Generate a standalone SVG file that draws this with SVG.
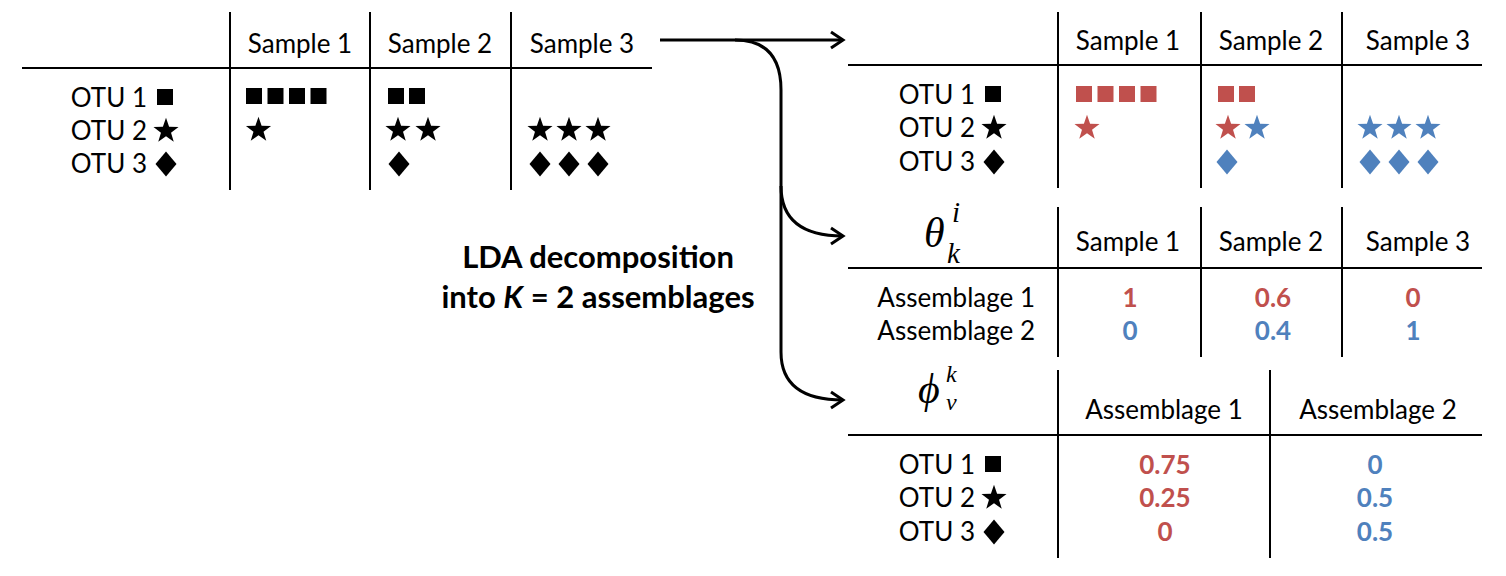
<svg xmlns="http://www.w3.org/2000/svg" width="1506" height="576" viewBox="0 0 1506 576">
<style>
text{font-family:Lato,"Open Sans","Liberation Sans",sans-serif;font-size:26px;fill:#000}
.c{text-anchor:middle}
.r{text-anchor:end}
.b{font-weight:bold}
.lda{font-size:31px;font-weight:bold}
.red{fill:#C0504D}
.blue{fill:#4F81BD}
.ln{stroke:#000;stroke-width:2;fill:none}
.math{font-family:"Liberation Serif","DejaVu Serif",serif;font-style:italic}
.big{font-size:42px}
.sub{font-size:29px}
.sub2{font-size:24px}
.conn{stroke:#000;stroke-width:3;fill:none}
</style>
<defs>
<path id="star" d="M0,-13.2 L3.1,-4.27 L12.55,-4.08 L5.03,1.63 L7.76,10.68 L0,5.28 L-7.76,10.68 L-5.03,1.63 L-12.55,-4.08 L-3.1,-4.27 Z"/>
<path id="dia" d="M0,-12.5 L10.5,0 L0,12.5 L-10.5,0 Z"/>
<rect id="sq" x="-8" y="-8" width="16" height="16"/>
<marker id="arr" viewBox="0 0 20 20" refX="16" refY="10" markerWidth="20" markerHeight="20" markerUnits="userSpaceOnUse" orient="auto">
<path d="M4,2 L16,10 L4,18" fill="none" stroke="#000" stroke-width="3"/>
</marker>
</defs>

<g id="table-counts">
<path class="ln" d="M230,12V190M370,12V190M511,12V190M22,68H652"/>
<text class="c" x="300" y="53">Sample 1</text>
<text class="c" x="440" y="53">Sample 2</text>
<text class="c" x="582" y="53">Sample 3</text>
<text class="r" x="147" y="107">OTU 1</text>
<text class="r" x="147" y="140">OTU 2</text>
<text class="r" x="147" y="173">OTU 3</text>
<use href="#sq" x="165" y="97"/>
<use href="#star" x="166" y="131"/>
<use href="#dia" x="166" y="164"/>
<use href="#sq" x="254" y="96"/><use href="#sq" x="275.5" y="96"/><use href="#sq" x="297" y="96"/><use href="#sq" x="318.5" y="96"/>
<use href="#star" x="258.5" y="130"/>
<use href="#sq" x="396" y="96"/><use href="#sq" x="417" y="96"/>
<use href="#star" x="398" y="130"/><use href="#star" x="428" y="130"/>
<use href="#dia" x="399" y="164"/>
<use href="#star" x="540" y="130"/><use href="#star" x="569" y="130"/><use href="#star" x="598" y="130"/>
<use href="#dia" x="540" y="164"/><use href="#dia" x="569" y="164"/><use href="#dia" x="598" y="164"/>
</g>

<g id="connectors">
<path class="conn" d="M660,40 H843" marker-end="url(#arr)"/>
<path class="conn" d="M735,40 Q781,40 781,90 V352 Q781,400 843,400" marker-end="url(#arr)"/>
<path class="conn" d="M781,186 Q781,236 843,236" marker-end="url(#arr)"/>
</g>

<g id="label-lda">
<text class="c lda" x="598" y="268">LDA decomposition</text>
<text class="c lda" x="598" y="308">into <tspan font-style="italic">K</tspan> = 2 assemblages</text>
</g>

<g id="table-colored">
<path class="ln" d="M1058,12V188M1201,12V188M1342,12V188M848,65H1482"/>
<text class="c" x="1128" y="50">Sample 1</text>
<text class="c" x="1271" y="50">Sample 2</text>
<text class="c" x="1418" y="50">Sample 3</text>
<text class="r" x="975" y="104">OTU 1</text>
<text class="r" x="975" y="137">OTU 2</text>
<text class="r" x="975" y="171">OTU 3</text>
<use href="#sq" x="993" y="94"/>
<use href="#star" x="994" y="128"/>
<use href="#dia" x="994" y="162"/>
<g class="red">
<use href="#sq" x="1084" y="94"/><use href="#sq" x="1105.5" y="94"/><use href="#sq" x="1127" y="94"/><use href="#sq" x="1148.5" y="94"/>
<use href="#star" x="1087" y="128"/>
<use href="#sq" x="1226" y="94"/><use href="#sq" x="1247" y="94"/>
<use href="#star" x="1228" y="128"/>
</g>
<g class="blue">
<use href="#star" x="1257" y="128"/>
<use href="#dia" x="1227" y="162"/>
<use href="#star" x="1370" y="128"/><use href="#star" x="1399" y="128"/><use href="#star" x="1428" y="128"/>
<use href="#dia" x="1370" y="162"/><use href="#dia" x="1399" y="162"/><use href="#dia" x="1428" y="162"/>
</g>
</g>

<g id="table-theta">
<path class="ln" d="M1058,207V357M1201,207V357M1342,207V357M848,268H1482"/>
<text class="math big" x="924" y="247">θ</text>
<text class="math sub" x="952" y="222">i</text>
<text class="math sub" x="947" y="263">k</text>
<text class="c" x="1128" y="251">Sample 1</text>
<text class="c" x="1271" y="251">Sample 2</text>
<text class="c" x="1418" y="251">Sample 3</text>
<text class="r" x="1035" y="307">Assemblage 1</text>
<text class="r" x="1035" y="340">Assemblage 2</text>
<text class="c b red" x="1130" y="307">1</text>
<text class="c b red" x="1273" y="307">0.6</text>
<text class="c b red" x="1413" y="307">0</text>
<text class="c b blue" x="1130" y="340">0</text>
<text class="c b blue" x="1273" y="340">0.4</text>
<text class="c b blue" x="1413" y="340">1</text>
</g>

<g id="table-phi">
<path class="ln" d="M1058,370V558M1270,370V558M848,435H1482"/>
<text class="math big" x="918" y="403">ϕ</text>
<text class="math sub2" x="946" y="382">k</text>
<text class="math sub2" x="946" y="410">v</text>
<text class="c" x="1164" y="419">Assemblage 1</text>
<text class="c" x="1378" y="419">Assemblage 2</text>
<text class="r" x="975" y="474">OTU 1</text>
<text class="r" x="975" y="507">OTU 2</text>
<text class="r" x="975" y="541">OTU 3</text>
<use href="#sq" x="993" y="464"/>
<use href="#star" x="994" y="498"/>
<use href="#dia" x="994" y="532"/>
<text class="c b red" x="1165" y="474">0.75</text>
<text class="c b red" x="1165" y="507">0.25</text>
<text class="c b red" x="1165" y="541">0</text>
<text class="c b blue" x="1375" y="474">0</text>
<text class="c b blue" x="1375" y="507">0.5</text>
<text class="c b blue" x="1375" y="541">0.5</text>
</g>
</svg>
